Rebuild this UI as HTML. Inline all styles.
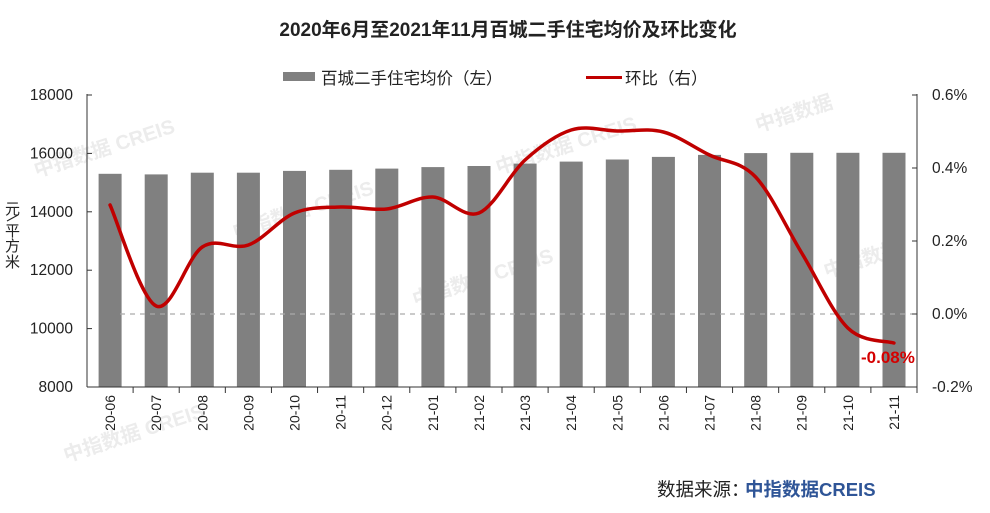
<!DOCTYPE html>
<html><head><meta charset="utf-8"><style>
body{margin:0;background:#fff;width:990px;height:508px;overflow:hidden}
svg text{font-family:"Liberation Sans","Noto Sans CJK SC",sans-serif}
</style></head><body>
<svg id="s" width="990" height="508" xmlns="http://www.w3.org/2000/svg">
<g fill="#ececec" font-size="20" font-weight="bold" transform="rotate(-18)">
<text x="-20" y="180">中指数据 CREIS</text>
<text x="150" y="300">中指数据 CREIS</text>
<text x="300" y="420">中指数据 CREIS</text>
<text x="-80" y="460">中指数据 CREIS</text>
<text x="420" y="320">中指数据 CREIS</text>
<text x="680" y="360">中指数据</text>
<text x="700" y="520">中指数据</text>
</g>
<text x="508" y="36" text-anchor="middle" font-size="19" font-weight="bold" fill="#222">2020年6月至2021年11月百城二手住宅均价及环比变化</text>
<rect x="283" y="72" width="32" height="9" fill="#808080"/>
<text x="321" y="84" font-size="16.5" fill="#222">百城二手住宅均价（左）</text>
<rect x="586" y="76" width="36" height="3" fill="#c00000"/>
<text x="625" y="84" font-size="16.5" fill="#222">环比（右）</text>
<g fill="#808080">
<rect x="98.6" y="173.8" width="23" height="213.2"/>
<rect x="144.7" y="174.4" width="23" height="212.6"/>
<rect x="190.8" y="172.7" width="23" height="214.3"/>
<rect x="236.9" y="172.7" width="23" height="214.3"/>
<rect x="283.0" y="170.9" width="23" height="216.1"/>
<rect x="329.2" y="169.8" width="23" height="217.2"/>
<rect x="375.3" y="168.6" width="23" height="218.4"/>
<rect x="421.4" y="167.1" width="23" height="219.9"/>
<rect x="467.5" y="166.0" width="23" height="221.0"/>
<rect x="513.6" y="163.6" width="23" height="223.4"/>
<rect x="559.7" y="161.6" width="23" height="225.4"/>
<rect x="605.8" y="159.5" width="23" height="227.5"/>
<rect x="651.9" y="156.9" width="23" height="230.1"/>
<rect x="698.0" y="154.9" width="23" height="232.1"/>
<rect x="744.2" y="153.1" width="23" height="233.9"/>
<rect x="790.3" y="152.8" width="23" height="234.2"/>
<rect x="836.4" y="152.8" width="23" height="234.2"/>
<rect x="882.5" y="152.8" width="23" height="234.2"/>
</g>
<line x1="120" y1="314" x2="912" y2="314" stroke="#aaa" stroke-width="1.3" stroke-dasharray="5,5"/>
<line x1="87" y1="94" x2="87" y2="387" stroke="#333" stroke-width="1"/>
<line x1="917" y1="94" x2="917" y2="387" stroke="#333" stroke-width="1"/>
<line x1="87" y1="387" x2="917" y2="387" stroke="#333" stroke-width="1"/>
<g id="ax" font-size="15.5" fill="#222"></g>
<path id="ln" fill="none" stroke="#c00000" stroke-width="3.5" stroke-linecap="round"/>
<text x="861" y="363" font-size="17" font-weight="bold" fill="#d40000">-0.08%</text>
<g font-size="15" fill="#222">
<text x="5" y="214">元</text>
<text x="5" y="236">平</text>
<text x="5" y="251">方</text>
<text x="5" y="267">米</text>
</g>
<line x1="7" y1="221" x2="18" y2="215" stroke="#222" stroke-width="1"/>
<text x="657" y="496" font-size="18.5" fill="#222">数据来源：</text>
<text x="745" y="496" font-size="18.5" font-weight="bold" fill="#2f5597">中指数据CREIS</text>
</svg>
<script>
var ns="http://www.w3.org/2000/svg";
function el(t,a,p,txt){var e=document.createElementNS(ns,t);for(var k in a)e.setAttribute(k,a[k]);if(txt)e.textContent=txt;document.getElementById(p).appendChild(e);return e;}
var labs=["20-06","20-07","20-08","20-09","20-10","20-11","20-12","21-01","21-02","21-03","21-04","21-05","21-06","21-07","21-08","21-09","21-10","21-11"];
var w=830/18;
for(var i=0;i<18;i++){var cx=87+w*(i+0.5);
el("line",{x1:87+w*(i+1),y1:387,x2:87+w*(i+1),y2:393,stroke:"#333"},"ax");
el("text",{x:0,y:0,transform:"translate("+(cx+5)+",395) rotate(-90)","text-anchor":"end","font-size":"14"},"ax",labs[i]);}
var L=[8000,10000,12000,14000,16000,18000];
for(var j=0;j<6;j++){var y=387-j*58.4;el("text",{x:73,y:y+5,"text-anchor":"end"},"ax",String(L[j]));el("line",{x1:87,y1:y,x2:92,y2:y,stroke:"#333"},"ax");}
var R=["-0.2%","0.0%","0.2%","0.4%","0.6%"];
for(var j=0;j<5;j++){var y=387-j*73;el("text",{x:932,y:y+5},"ax",R[j]);el("line",{x1:912,y1:y,x2:917,y2:y,stroke:"#333"},"ax");}
var py=[205,306,247,245,213,207,209,197,213,160,130,131,132,155,177,253,328,343];
var P=py.map(function(y,i){return [87+w*(i+0.5),y];});
var d="M"+P[0][0]+","+P[0][1];
for(var i=0;i<P.length-1;i++){var p0=P[i-1]||P[i],p1=P[i],p2=P[i+1],p3=P[i+2]||p2;
d+=" C"+(p1[0]+(p2[0]-p0[0])/6)+","+(p1[1]+(p2[1]-p0[1])/6)+" "+(p2[0]-(p3[0]-p1[0])/6)+","+(p2[1]-(p3[1]-p1[1])/6)+" "+p2[0]+","+p2[1];}
document.getElementById("ln").setAttribute("d",d);
</script>
</body></html>
